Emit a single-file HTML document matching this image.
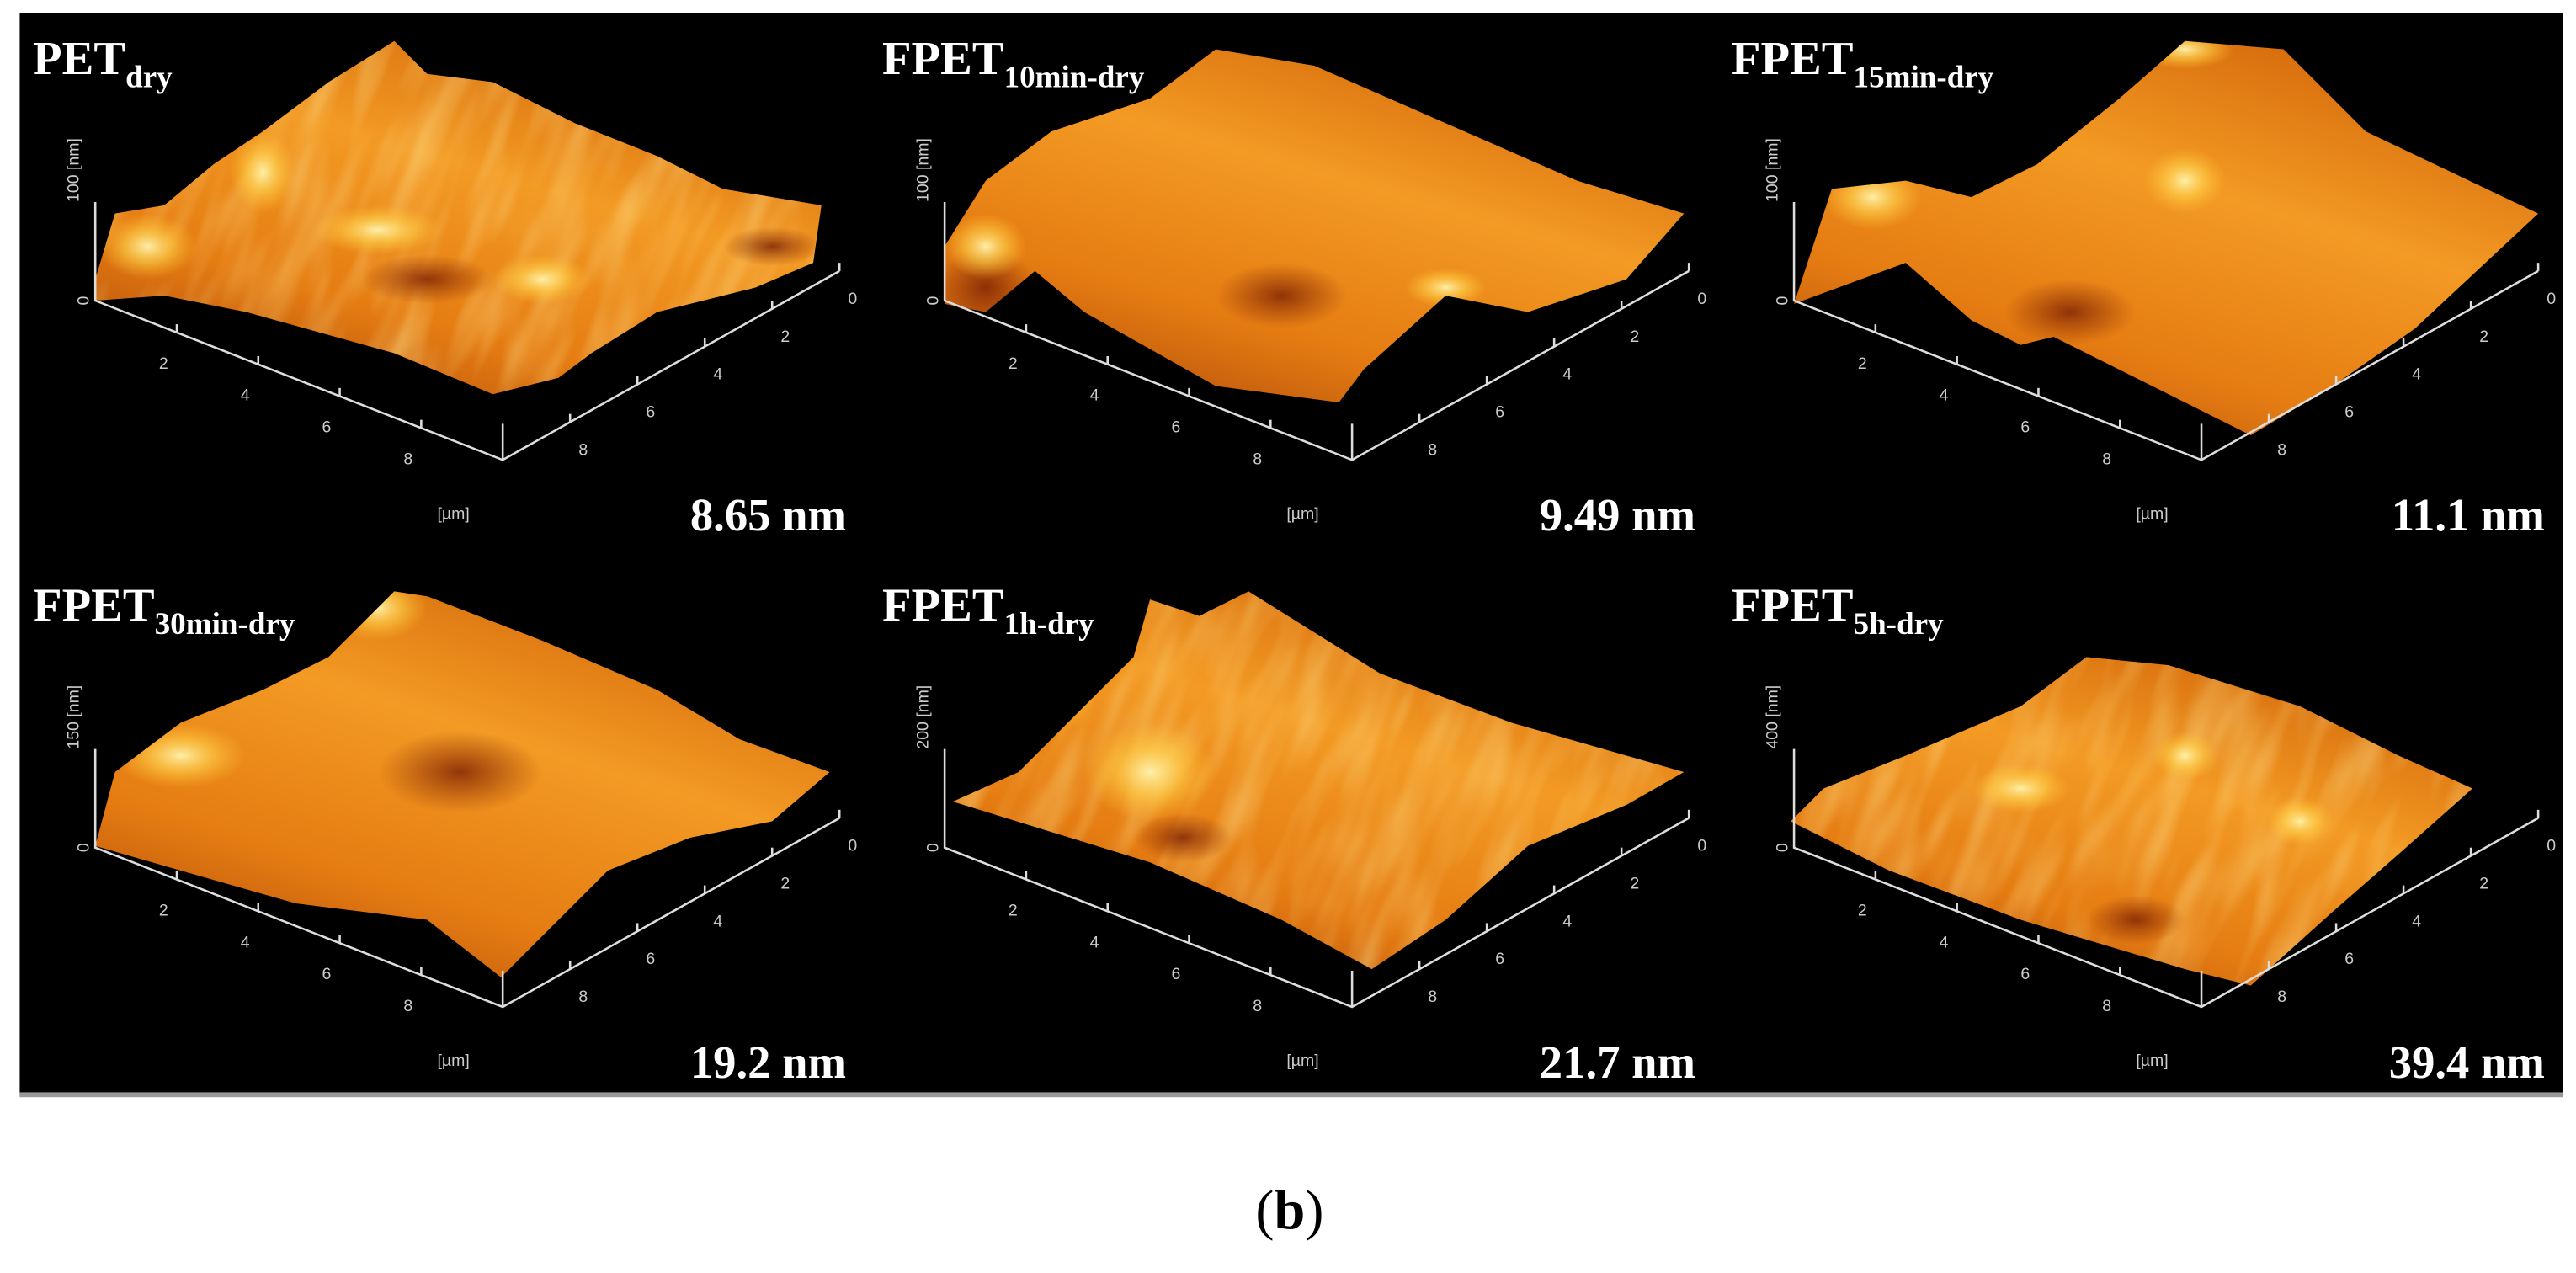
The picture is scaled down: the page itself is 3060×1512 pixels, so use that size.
<!DOCTYPE html>
<html><head><meta charset="utf-8"><style>
html,body{margin:0;padding:0;background:#fff;width:3060px;height:1512px;overflow:hidden}
svg{display:block}
text{font-family:"Liberation Serif",serif}
.ax{stroke:#ddd;stroke-width:1.3;fill:none}
.tk{fill:#ccc;font-family:"Liberation Sans",sans-serif;font-size:10px}
</style></head><body>
<svg id="fig" width="3060" height="1512" viewBox="0 0 1568 775" preserveAspectRatio="none" xmlns="http://www.w3.org/2000/svg">
<defs>
<linearGradient id="g1" x1="0" y1="1" x2="0.6" y2="0">
<stop offset="0" stop-color="#a8420a"/><stop offset="0.35" stop-color="#e57c12"/><stop offset="0.7" stop-color="#f39a24"/><stop offset="1" stop-color="#d9700e"/></linearGradient>
<radialGradient id="hl"><stop offset="0" stop-color="#fff3b0" stop-opacity="0.95"/><stop offset="0.5" stop-color="#ffd24a" stop-opacity="0.6"/><stop offset="1" stop-color="#ffc030" stop-opacity="0"/></radialGradient>
<radialGradient id="dk"><stop offset="0" stop-color="#7a2004" stop-opacity="0.8"/><stop offset="1" stop-color="#8a2a04" stop-opacity="0"/></radialGradient>
<filter id="tex" x="0" y="0" width="100%" height="100%"><feTurbulence type="fractalNoise" baseFrequency="0.06 0.015" numOctaves="2" seed="3"/><feColorMatrix values="0 0 0 0 1  0 0 0 0 0.8  0 0 0 0 0.3  0 0 0 1.2 -0.45"/></filter>
</defs>
<rect x="12" y="8" width="1548" height="659" fill="#000"/>
<rect x="12" y="665" width="1548" height="3" fill="#999"/>
<g id="panels"></g>
<text x="785" y="748" text-anchor="middle" font-size="34" fill="#000">(<tspan font-weight="bold">b</tspan>)</text>
</svg>
<script>
const names=["PET","FPET","FPET","FPET","FPET","FPET"];
const subs=["dry","10min-dry","15min-dry","30min-dry","1h-dry","5h-dry"];
const roughness=["8.65 nm","9.49 nm","11.1 nm","19.2 nm","21.7 nm","39.4 nm"];
const zmax=["100","100","100","150","200","400"];
const textured=[true,false,false,false,true,true];
const origins=[[58,183],[575,183],[1092,183],[58,516],[575,516],[1092,516]];
const outlines=[
"58,170 70,130 100,125 130,100 160,80 200,50 240,25 260,45 300,50 350,75 400,95 440,115 500,125 495,160 460,175 400,190 360,215 340,230 300,240 240,215 150,190 100,180 58,183",
"575,185 575,150 600,110 640,80 700,60 740,30 800,40 880,75 960,110 1025,130 990,170 930,190 880,180 830,225 815,245 740,235 660,190 630,165 600,190",
"1092,185 1115,115 1160,110 1200,120 1240,100 1290,60 1330,25 1390,30 1440,80 1545,130 1470,200 1420,235 1370,265 1320,240 1250,205 1230,210 1200,195 1160,160",
"58,515 70,470 110,440 160,420 200,400 240,360 260,363 330,390 400,420 450,450 505,470 470,500 420,510 370,530 330,570 305,595 260,560 180,550 110,530",
"580,488 620,470 660,430 690,400 700,365 730,375 760,360 840,410 920,440 1025,470 990,490 930,515 880,560 835,590 780,560 700,525",
"1090,500 1110,480 1160,460 1230,430 1270,400 1320,405 1400,430 1460,460 1505,480 1460,520 1420,555 1370,600 1330,590 1230,560 1150,530"];
const lights=[[[90,150,30,20],[230,140,40,15],[330,170,30,15],[160,105,20,25]],[[600,150,25,20],[880,175,25,12]],[[1140,120,30,20],[1330,110,25,20],[1330,30,30,12]],[[110,460,40,20],[230,370,30,20]],[[700,470,40,30],[650,410,20,35]],[[1230,480,30,15],[1330,460,20,15],[1400,500,20,15]]];
const darks=[[[260,170,40,15],[470,150,30,12]],[[600,175,30,25],[780,180,40,20]],[[1260,190,40,20]],[[280,470,50,25]],[[720,510,30,15]],[[1300,560,30,15]]];
const g=document.getElementById('panels');
const NS="http://www.w3.org/2000/svg";
function mk(t,a,p){const e=document.createElementNS(NS,t);for(const k in a)e.setAttribute(k,a[k]);(p||g).appendChild(e);return e;}
for(let i=0;i<6;i++){
 const [x0,y0]=origins[i];
 const pg=mk('g',{});
 
 
 const s=mk('polygon',{points:outlines[i],fill:'url(#g1)'},pg);
 
 
 const cid='c'+i;const cp=mk('clipPath',{id:cid},pg);mk('polygon',{points:outlines[i]},cp);
 const hg=mk('g',{'clip-path':'url(#'+cid+')'},pg);
 if(textured[i])mk('rect',{x:x0-10,y:y0-190,width:480,height:300,filter:'url(#tex)',transform:`rotate(22 ${x0+220} ${y0-40})`,opacity:0.7},hg);
 for(const d of darks[i])mk('ellipse',{cx:d[0],cy:d[1],rx:d[2],ry:d[3],fill:'url(#dk)'},hg);
 for(const l of lights[i])mk('ellipse',{cx:l[0],cy:l[1],rx:l[2],ry:l[3],fill:'url(#hl)'},hg);
 const fx=x0+248,fy=y0+97,rx=x0+453,ry=y0-18;
 const ax=mk('path',{class:'ax',d:`M${x0},${y0-60}V${y0}L${fx},${fy}L${rx},${ry}M${fx},${fy}V${fy-22}`},pg);
 
 
 for(let k=1;k<=4;k++){
  const t=k/5;const lx=x0+248*t,ly=y0+97*t;
  mk('path',{class:'ax',d:`M${lx},${ly}v-5`},pg);
  const tl=mk('text',{class:'tk',x:lx-8,y:ly+22,'text-anchor':'middle'},pg);tl.textContent=2*k;
  
  
 }
 for(let k=0;k<=4;k++){
  const t=1-k/5;const lx=fx+(rx-fx)*t,ly=fy+(ry-fy)*t;
  mk('path',{class:'ax',d:`M${lx},${ly}v-5`},pg);
  const tl=mk('text',{class:'tk',x:lx+8,y:ly+20,'text-anchor':'middle'},pg);tl.textContent=2*k;
  
  
 }
 const z0=mk('text',{class:'tk',x:x0-8,y:y0+4,'text-anchor':'middle',transform:`rotate(-90 ${x0-8} ${y0})`},pg);z0.textContent='0';
 
 
 const zl=mk('text',{class:'tk',x:x0-10,y:y0-60,'text-anchor':'start',transform:`rotate(-90 ${x0-10} ${y0-60})`},pg);zl.textContent=zmax[i]+' [nm]';
 
 
 const um=mk('text',{class:'tk',x:x0+218,y:y0+133,'text-anchor':'middle'},pg);um.textContent='[µm]';
 
 
 const lb=mk('text',{x:x0-38,y:y0-138,fill:'#fff','font-size':29,'font-weight':'bold'},pg);
 lb.innerHTML=names[i]+'<tspan font-size="19" dy="8">'+subs[i]+'</tspan>';
 
 
 const rl=mk('text',{x:x0+457,y:y0+140,fill:'#fff','font-size':28,'font-weight':'bold','text-anchor':'end'},pg);rl.textContent=roughness[i];
 
 
}
</script>
</body></html>
